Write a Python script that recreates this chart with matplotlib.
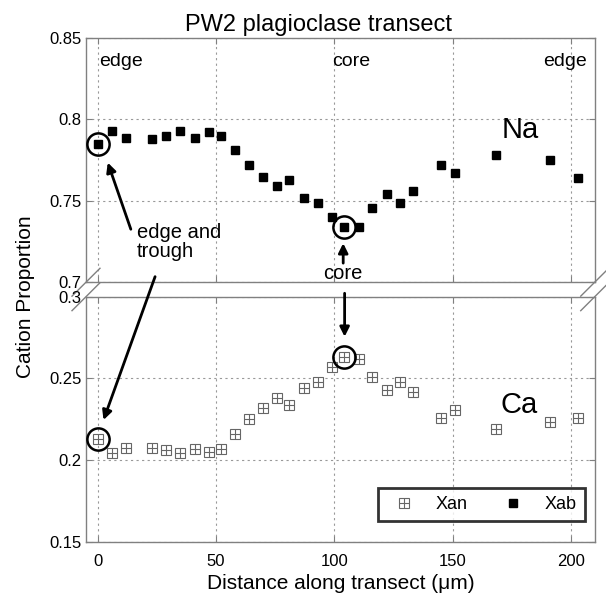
import numpy as np
import matplotlib
matplotlib.use('Agg')
import matplotlib.pyplot as plt
from matplotlib.legend_handler import HandlerTuple

plt.rcParams['font.family'] = ['Liberation Sans', 'DejaVu Sans']

# data
dist = [0.25, 6.0, 12.0, 23.1, 29.0, 34.9, 41.0, 47.1, 51.9, 57.9, 64.0, 69.9, 75.9, 80.9,
        87.1, 92.9, 98.9, 104.0, 110.4, 115.9, 122.0, 127.9, 133.0, 145.1, 151.0, 168.1, 191.0, 203.1]
xab = [0.7848, 0.7928, 0.7887, 0.7879, 0.7898, 0.7930, 0.7887, 0.7920, 0.7900, 0.7810,
       0.7720, 0.7648, 0.7589, 0.7628, 0.7517, 0.7489, 0.7399, 0.7337, 0.7337, 0.7458,
       0.7540, 0.7489, 0.7558, 0.7720, 0.7669, 0.7779, 0.7750, 0.7640]
xan = [0.2130, 0.2041, 0.2072, 0.2075, 0.2059, 0.2041, 0.2069, 0.2049, 0.2069, 0.2159,
       0.2249, 0.2320, 0.2381, 0.2337, 0.2439, 0.2476, 0.2569, 0.2628, 0.2620, 0.2508,
       0.2428, 0.2479, 0.2418, 0.2259, 0.2308, 0.2188, 0.2231, 0.2259]
edge_i = 0
core_i = 17

grey = '#808080'

fig = plt.figure(figsize=(6.06, 5.97), dpi=100)
ax1 = fig.add_axes([0.1419, 0.5273, 0.8395, 0.4094])
ax2 = fig.add_axes([0.1419, 0.0926, 0.8395, 0.4104])

for ax in (ax1, ax2):
    ax.set_xlim(-5, 210)
    ax.set_xticks([0, 50, 100, 150, 200])
    ax.grid(True, linestyle=(0, (2, 3)), color='#999999', linewidth=0.8)
    ax.tick_params(direction='in', top=True, right=True, length=4, color=grey,
                   labelsize=12, pad=3)
    for s in ax.spines.values():
        s.set_color(grey)
        s.set_linewidth(1.0)
    ax.set_axisbelow(True)

ax1.set_ylim(0.7, 0.85)
ax1.set_yticks([0.7, 0.75, 0.8, 0.85])
ax1.set_yticklabels(['0.7', '0.75', '0.8', '0.85'])
ax1.tick_params(labelbottom=False)

ax2.set_ylim(0.15, 0.3)
ax2.set_yticks([0.15, 0.2, 0.25, 0.3])
ax2.set_yticklabels(['0.15', '0.2', '0.25', '0.3'])
ax2.tick_params(axis='x', pad=9)

# Na
h_ab, = ax1.plot(dist, xab, 's', color='black', ms=6, zorder=3)
# Ca: open square with a plus inside
h_an1, = ax2.plot(dist, xan, 's', mfc='white', mec='#666666', ms=7, mew=0.8, zorder=3)
h_an2, = ax2.plot(dist, xan, '+', color='#666666', ms=7, mew=0.8, zorder=4)

# circled points
for i in (edge_i, core_i):
    ax1.plot(dist[i], xab[i], 'o', mfc='none', mec='black', ms=16, mew=1.8, zorder=5)
    ax2.plot(dist[i], xan[i], 'o', mfc='none', mec='black', ms=16, mew=1.8, zorder=5)

ax1.text(0.5, 0.8353, 'edge', fontsize=14, va='center', ha='left')
ax1.text(99, 0.8353, 'core', fontsize=14, va='center', ha='left')
ax1.text(188, 0.8353, 'edge', fontsize=14, va='center', ha='left')
ax1.text(178.4, 0.7935, 'Na', fontsize=21, va='center', ha='center')
ax2.text(178.2, 0.2335, 'Ca', fontsize=21, va='center', ha='center')

ax1.text(16.5, 0.7365, 'edge and\ntrough', fontsize=14.5, va='top', ha='left',
         linespacing=1.05)
ax1.text(103.4, 0.7051, 'core', fontsize=14.5, va='center', ha='center', clip_on=False)

arw = dict(arrowstyle='-|>', color='black', lw=2, mutation_scale=14, shrinkA=0, shrinkB=0)
ax1.annotate('', xy=(4.2, 0.7734), xytext=(13.95, 0.7325), arrowprops=arw)
ax1.annotate('', xy=(103.7, 0.7239), xytext=(103.7, 0.7117), arrowprops=arw)
ax2.annotate('', xy=(2.4, 0.2245), xycoords='data', xytext=(24.2, 0.7034),
             textcoords=ax1.transData, arrowprops=arw, annotation_clip=False)
ax2.annotate('', xy=(104.3, 0.2755), xytext=(104.3, 0.3021), arrowprops=arw,
             annotation_clip=False)

# break marks
dx, dy = 0.0275, 0.057
for ax, yb in ((ax1, 0.0), (ax2, 1.0)):
    for xb in (0.0, 1.0):
        ax.plot([xb - dx, xb + dx], [yb - dy, yb + dy],
                color=grey, lw=1.0, transform=ax.transAxes, clip_on=False)

leg = ax2.legend([(h_an1, h_an2), h_ab], ['Xan', 'Xab'],
                 handler_map={tuple: HandlerTuple(ndivide=1)},
                 ncol=2, loc='lower right', bbox_to_anchor=(0.981, 0.0845),
                 borderaxespad=0, fontsize=13, frameon=True, fancybox=False,
                 handlelength=1.9, handletextpad=0.8, columnspacing=1.6,
                 borderpad=0.45)
leg.get_frame().set_edgecolor('black')
leg.get_frame().set_linewidth(2)

fig.text(0.526, 0.948, 'PW2 plagioclase transect', fontsize=17, ha='center', va='baseline')
fig.text(0.5625, 0.023, 'Distance along transect (\u03bcm)', fontsize=15, ha='center', va='center')
fig.text(0.042, 0.503, 'Cation Proportion', fontsize=15, ha='center', va='center', rotation=90)

fig.savefig('out.png', dpi=100)
